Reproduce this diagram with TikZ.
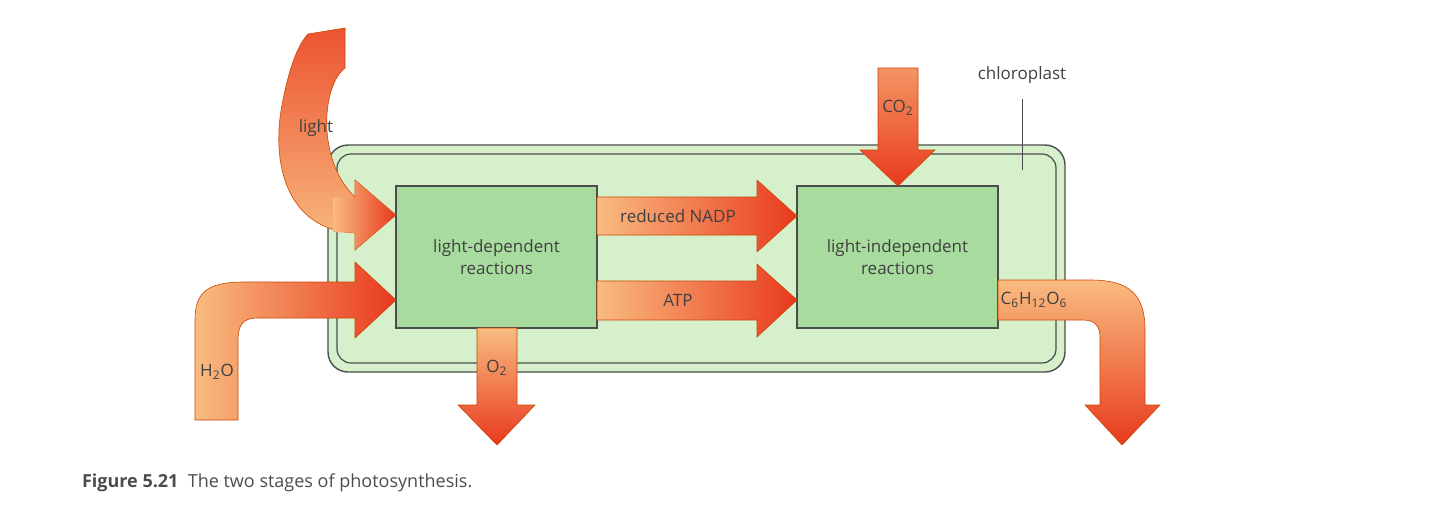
\documentclass[tikz,border=0pt]{standalone}
\usepackage{fontspec}
\setmainfont{Open Sans}
\newcommand{\sub}[1]{\textsubscript{#1}}
\begin{document}
\begin{tikzpicture}[x=0.5pt,y=-0.5pt,
  arr/.style={draw=orange!70!red!80!black, line width=0.3pt},
  lbl/.style={font=\fontsize{8.5}{10}\selectfont, text=black!75},
  box/.style={draw=black!70, line width=0.6pt, fill=boxg, minimum width=100.5pt, minimum height=71pt, align=center, font=\fontsize{8.5}{11}\selectfont, text=black!75}]
\definecolor{lo}{HTML}{F9BC80}
\definecolor{rd}{HTML}{E8391E}
\definecolor{boxg}{HTML}{A8DC9F}
\definecolor{chl}{HTML}{D6F0CC}
\useasboundingbox (0,0) rectangle (1440,509);
% chloroplast
\draw[black!70, line width=0.7pt, fill=chl, rounded corners=10pt] (328,145) rectangle (1065,372);
\draw[black!70, line width=0.6pt, rounded corners=7pt] (337,154) rectangle (1056,363);
\node[lbl] (chl) at (1022,75) {chloroplast};
\coordinate (chlend) at (1022,170);
\draw[black!70, line width=0.5pt] (chl.south) ++(0,-4pt) -- (chlend);
% boxes
\node[box] (b1) at (496.5,257) {light-dependent\\reactions};
\node[box] (b2) at (897.5,257) {light-independent\\reactions};
% reduced NADP
\path[arr, left color=lo, right color=rd] (597,197) -- (757,197) -- (757,180) -- (797,216) -- (757,252) -- (757,235) -- (597,235) -- cycle;
\node[lbl] (nadp) at (678,216) {reduced NADP};
% ATP
\path[arr, left color=lo, right color=rd] (597,281) -- (757,281) -- (757,264) -- (797,300) -- (757,337) -- (757,320) -- (597,320) -- cycle;
\node[lbl] (atp) at (678,300) {ATP};
% CO2
\path[arr, top color=lo!70!rd, bottom color=rd] (878,68) -- (918,68) -- (918,150) -- (935,150) -- (898,186) -- (860,150) -- (878,150) -- cycle;
\node[lbl] (co2) at (898,108) {CO\sub{2}};
% O2
\path[arr, top color=lo, bottom color=rd] (477,328) -- (517,328) -- (517,405) -- (535,405) -- (497,445) -- (458,405) -- (477,405) -- cycle;
\node[lbl] (o2) at (497,368) {O\sub{2}};
% light
\path[arr, top color=rd!80!lo, bottom color=lo] (308,34) -- (345,28) -- (345,68) .. controls (322,85) and (316,160) .. (355,197) -- (355,180) -- (396,215) -- (355,250) -- (355,233) .. controls (285,230) and (270,160) .. (283,100) .. controls (290,65) and (298,45) .. (308,34) -- cycle;
\path[left color=lo, right color=rd] (333,197.3) -- (355,197.3) -- (355,180.5) -- (395.5,215) -- (355,249.5) -- (355,232.7) -- (333,232.2) -- cycle;
\node[lbl] (light) at (316,128) {light};
% H2O
\path[arr, left color=lo, right color=rd] (195,420) -- (195,320) .. controls (195,290) and (210,282) .. (245,282) -- (355,282) -- (355,262) -- (396,300) -- (355,338) -- (355,318) -- (258,318) .. controls (242,318) and (238,325) .. (238,342) -- (238,420) -- cycle;
\node[lbl] (h2o) at (217,372) {H\sub{2}O};
% C6H12O6
\path[arr, top color=lo, bottom color=rd] (998,280) -- (1090,280) .. controls (1130,280) and (1145,295) .. (1145,330) -- (1145,405) -- (1160,405) -- (1122,445) -- (1085,405) -- (1100,405) -- (1100,338) .. controls (1100,326) and (1095,320) .. (1083,320) -- (998,320) -- cycle;
\node[lbl] (glc) at (1034,300) {C\sub{6}H\sub{12}O\sub{6}};
% caption
\node[anchor=base west, font=\fontsize{9}{11}\selectfont, text=black!70] (cap) at (75,487) {\textbf{Figure 5.21}\ \ The two stages of photosynthesis.};
\end{tikzpicture}
\end{document}
